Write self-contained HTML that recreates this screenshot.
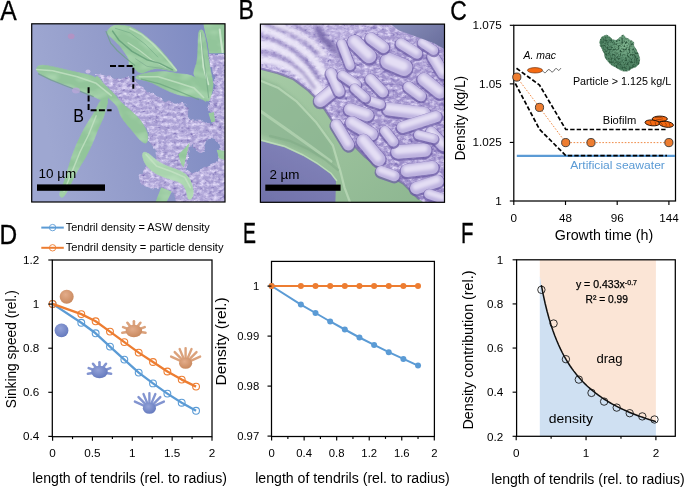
<!DOCTYPE html>
<html><head><meta charset="utf-8"><title>Figure</title>
<style>
html,body{margin:0;padding:0;background:#fff;}
body{width:685px;height:487px;overflow:hidden;font-family:"Liberation Sans",sans-serif;}
svg{display:block;}
text{font-family:"Liberation Sans",sans-serif;}
</style></head><body>
<svg width="685" height="487" viewBox="0 0 685 487">
<defs>
<filter id="rough" x="-5%" y="-5%" width="110%" height="110%"><feTurbulence type="fractalNoise" baseFrequency="0.55" numOctaves="2" seed="3" result="n"/><feColorMatrix in="n" type="matrix" values="0 0 0 0 0  0 0 0 0 0  0 0 0 0 0  3.2 0 0 0 -1.25" result="a"/><feFlood flood-color="#2F5A40"/><feComposite in2="a" operator="in" result="sp"/><feMerge><feMergeNode in="SourceGraphic"/><feMergeNode in="sp"/></feMerge><feComposite in2="SourceGraphic" operator="in"/></filter>
<filter id="ptex" x="0" y="0" width="100%" height="100%" color-interpolation-filters="sRGB"><feTurbulence type="fractalNoise" baseFrequency="0.22 0.3" numOctaves="3" seed="11" result="n"/><feColorMatrix in="n" type="matrix" values="0 0 0 0 0.93  0 0 0 0 0.90  0 0 0 0 1  1.9 0 0 0 -0.72" result="lt"/><feColorMatrix in="n" type="matrix" values="0 0 0 0 0.42  0 0 0 0 0.36  0 0 0 0 0.66  0 -2.4 0 0 1.05" result="dk"/><feMerge result="m"><feMergeNode in="SourceGraphic"/><feMergeNode in="dk"/><feMergeNode in="lt"/></feMerge><feComposite in="m" in2="SourceGraphic" operator="in"/></filter>
<filter id="ptexA" x="0" y="0" width="100%" height="100%" color-interpolation-filters="sRGB"><feTurbulence type="fractalNoise" baseFrequency="0.16" numOctaves="2" seed="4" result="dn"/><feDisplacementMap in="SourceGraphic" in2="dn" scale="6" xChannelSelector="R" yChannelSelector="G" result="sg"/><feTurbulence type="fractalNoise" baseFrequency="0.22 0.3" numOctaves="3" seed="11" result="n"/><feColorMatrix in="n" type="matrix" values="0 0 0 0 0.93  0 0 0 0 0.90  0 0 0 0 1  1.9 0 0 0 -0.72" result="lt"/><feColorMatrix in="n" type="matrix" values="0 0 0 0 0.42  0 0 0 0 0.36  0 0 0 0 0.66  0 -2.4 0 0 1.05" result="dk"/><feMerge result="m"><feMergeNode in="sg"/><feMergeNode in="dk"/><feMergeNode in="lt"/></feMerge><feComposite in="m" in2="sg" operator="in"/></filter>
<filter id="gtex" x="0" y="0" width="100%" height="100%" color-interpolation-filters="sRGB"><feTurbulence type="fractalNoise" baseFrequency="0.05 0.09" numOctaves="2" seed="5" result="n"/><feColorMatrix in="n" type="matrix" values="0 0 0 0 0.80  0 0 0 0 0.93  0 0 0 0 0.80  1.0 0 0 0 -0.42" result="lt"/><feMerge result="m"><feMergeNode in="SourceGraphic"/><feMergeNode in="lt"/></feMerge><feComposite in="m" in2="SourceGraphic" operator="in"/></filter>
<filter id="bl1" filterUnits="userSpaceOnUse" x="0" y="0" width="685" height="487"><feGaussianBlur stdDeviation="0.7"/></filter>
<filter id="bl0" filterUnits="userSpaceOnUse" x="0" y="0" width="685" height="487"><feGaussianBlur stdDeviation="0.45"/></filter>
<filter id="bl2" filterUnits="userSpaceOnUse" x="0" y="0" width="685" height="487"><feGaussianBlur stdDeviation="1.6"/></filter>
<clipPath id="clipA"><rect x="31.7" y="23.8" width="193.3" height="178.2"/></clipPath>
<clipPath id="clipB"><rect x="260.4" y="24.1" width="184.1" height="178.2"/></clipPath>
<linearGradient id="bgA" x1="0" y1="0.2" x2="1" y2="0"><stop offset="0" stop-color="#9EA7D1"/><stop offset="0.4" stop-color="#929BCA"/><stop offset="0.85" stop-color="#808CC3"/></linearGradient>
</defs>
<g clip-path="url(#clipA)">
<rect x="31" y="23" width="195" height="180" fill="url(#bgA)"/>
<g filter="url(#ptexA)">
<path d="M95.2,73.5 L109.4,76.3 L120.7,79.0 L128.0,76.7 L139.3,84.3 L150.7,92.8 L165.8,101.3 L175.0,102.5 L184.6,104.6 L189.6,108.3 L188.3,118.2 L197.0,120.6 L205.6,120.6 L209.3,124.3 L214.2,123.1 L209.3,112.0 L206.8,109.6 L209.3,102.2 L213.0,92.3 L214.2,80.0 L212.1,69.1 L208.3,54.0 L228.0,54.0 L228.0,147.9 L228.0,204.1 L176.2,204.1 L174.3,195.2 L172.4,192.3 L161.1,187.6 L150.7,188.6 L140.3,182.9 L138.4,175.3 L148.8,166.8 L156.4,159.3 L155.4,149.8 L150.7,144.1 L148.1,137.0 L146.1,129.0 L139.4,118.4 L130.0,109.7 L120.7,102.4 L114.0,93.0 L104.7,85.0 L101.0,80.0 Z M191.3,142.7 L193.4,146.6 L196.6,150.9 L200.9,153.4 L204.1,148.1 L206.2,140.2 L210.5,138.5 L218.0,141.7 L219.5,149.1 L218.5,160.9 L210.5,164.1 L202.0,168.4 L193.4,173.7 L185.9,169.4 L188.7,155.6 Z" fill="#AAA0D4" fill-rule="evenodd"/>
</g>
<g filter="url(#gtex)">
<path d="M108.4,34.8 Q105.6,31.7 109.4,28.2 Q113.2,24.7 118.8,25.0 Q124.5,25.3 127.3,26.0 Q130.0,26.6 129.0,26.1 Q128.0,25.7 133.7,28.3 Q139.3,31.0 145.5,35.9 Q151.6,40.8 157.8,46.9 Q163.9,53.1 169.1,59.7 Q174.3,66.3 176.5,69.4 Q178.7,72.6 172.2,71.0 Q165.8,69.5 160.1,68.9 Q154.5,68.2 150.2,70.1 Q146.0,72.0 142.7,72.9 Q139.3,73.9 136.5,70.6 Q133.7,67.3 130.8,65.8 Q128.0,64.4 129.0,62.5 Q130.0,60.6 127.3,56.4 Q124.5,52.1 121.7,48.4 Q118.8,44.6 115.1,41.3 Q111.3,38.0 108.4,34.8 Z" fill="#92C59A" stroke="#92C59A" stroke-width="0.8" stroke-linejoin="round" />
<path d="M36.6,70.1 Q35.7,67.3 38.5,65.8 Q41.3,64.4 47.0,65.4 Q52.7,66.3 60.2,68.2 Q67.8,70.1 76.3,72.0 Q84.8,73.9 90.5,75.3 Q96.2,76.7 100.1,82.4 Q104.0,88.0 106.2,92.5 Q108.5,97.0 107.8,99.5 Q107.0,102.0 103.0,100.8 Q99.0,99.5 95.7,97.6 Q92.4,95.6 84.8,92.5 Q77.3,89.4 69.7,86.5 Q62.1,83.7 55.5,81.2 Q48.9,78.6 43.2,75.8 Q37.6,72.9 36.6,70.1 Z" fill="#92C59A" stroke="#92C59A" stroke-width="0.8" stroke-linejoin="round" />
<path d="M96.0,76.8 Q97.0,75.5 99.0,77.8 Q101.0,80.0 102.8,82.5 Q104.7,85.0 109.3,89.0 Q114.0,93.0 117.3,97.7 Q120.7,102.4 125.3,106.1 Q130.0,109.7 134.7,114.1 Q139.4,118.4 142.8,123.7 Q146.1,129.0 147.2,133.0 Q148.4,137.0 147.7,139.9 Q147.0,142.8 146.1,143.2 Q145.2,143.6 142.9,142.3 Q140.7,141.0 137.3,137.0 Q134.0,133.0 130.0,128.3 Q126.0,123.7 123.0,119.7 Q120.0,115.7 119.0,111.1 Q118.0,106.4 114.0,103.1 Q110.0,99.7 106.7,96.3 Q103.4,93.0 100.7,89.0 Q98.0,85.0 96.5,81.5 Q95.0,78.0 96.0,76.8 Z" fill="#93C59A" stroke="#93C59A" stroke-width="0.8" stroke-linejoin="round" />
<path d="M102.0,99.2 Q100.0,100.5 97.7,105.5 Q95.3,110.4 92.9,114.4 Q90.5,118.4 87.7,122.8 Q84.8,127.1 80.6,135.6 Q76.3,144.1 73.5,151.7 Q70.6,159.3 68.8,165.9 Q66.9,172.5 65.0,178.6 Q63.1,184.8 60.7,190.0 Q58.4,195.2 60.7,197.1 Q63.1,199.0 66.9,191.9 Q70.6,184.8 74.0,177.7 Q77.3,170.6 81.0,164.9 Q84.8,159.3 88.6,151.7 Q92.4,144.1 95.2,136.6 Q98.0,129.0 100.7,123.7 Q103.4,118.4 104.7,113.7 Q106.0,109.0 107.3,104.3 Q108.7,99.7 106.3,98.8 Q104.0,98.0 102.0,99.2 Z" fill="#92C59A" stroke="#92C59A" stroke-width="0.8" stroke-linejoin="round" />
<path d="M135.6,77.4 Q135.6,75.8 141.2,74.2 Q146.9,72.6 156.4,71.8 Q165.8,71.0 172.4,72.5 Q179.0,73.9 185.7,74.3 Q192.3,74.8 196.1,78.6 Q199.8,82.4 202.7,89.0 Q205.5,95.6 206.4,99.4 Q207.4,103.2 203.6,100.3 Q199.8,97.5 192.3,97.0 Q184.7,96.6 178.1,94.7 Q171.5,92.8 164.9,89.5 Q158.2,86.2 152.6,83.3 Q146.9,80.5 141.2,79.7 Q135.6,79.0 135.6,77.4 Z" fill="#92C59A" stroke="#92C59A" stroke-width="0.8" stroke-linejoin="round" />
<path d="M198.1,39.8 Q198.3,31.3 199.6,30.4 Q200.8,29.5 202.2,29.9 Q203.6,30.4 205.0,36.5 Q206.4,42.7 207.4,50.2 Q208.3,57.8 209.8,66.3 Q211.2,74.8 212.6,79.5 Q214.0,84.3 212.6,89.9 Q211.2,95.6 209.8,99.4 Q208.3,103.2 206.0,99.4 Q203.6,95.6 201.3,89.0 Q198.9,82.4 195.6,78.1 Q192.3,73.9 194.6,68.7 Q197.0,63.5 197.5,55.9 Q197.9,48.4 198.1,39.8 Z" fill="#92C59A" stroke="#92C59A" stroke-width="0.8" stroke-linejoin="round" />
<polygon points="203.2,23.8 228.0,23.8 228.0,53.6 208.9,53.6 207.4,42.7 204.6,30.4" fill="#92C59A" />
<polygon points="190.0,141.9 184.7,147.9 178.1,154.5 180.9,164.0 183.8,167.8 186.6,155.5" fill="#92C59A" />
<path d="M142.4,154.7 Q142.4,151.3 145.8,152.3 Q149.2,153.2 153.2,157.4 Q157.3,161.5 163.6,164.4 Q170.0,167.2 175.8,169.1 Q181.7,171.0 185.7,174.1 Q189.6,177.2 191.9,184.3 Q194.2,191.4 193.0,195.4 Q191.9,199.3 189.8,199.5 Q187.7,199.7 187.4,196.7 Q187.0,193.7 185.5,189.5 Q184.0,185.3 181.1,183.5 Q178.3,181.6 172.6,180.1 Q166.9,178.5 161.3,176.3 Q155.6,174.0 150.9,170.2 Q146.1,166.4 144.3,162.3 Q142.4,158.1 142.4,154.7 Z" fill="#A9D4AE" stroke="#A9D4AE" stroke-width="0.8" stroke-linejoin="round" />
<polygon points="161.1,187.2 171.9,191.4 165.8,204.1 154.5,204.1" fill="#92C59A" />
<polygon points="216.5,149.4 224.8,150.8 224.8,160.2 218.7,158.3" fill="#92C59A" />
<polygon points="208.3,112.9 214.0,112.0 215.3,121.5 211.2,122.4" fill="#92C59A" />
</g>
<polyline points="36.6,69.5 52.7,70.7 77.3,76.7 96.2,83.3 111.3,95.6" fill="none" stroke="#C4E2C4" stroke-width="1.6" stroke-opacity="0.8" stroke-linecap="round" stroke-linejoin="round" filter="url(#bl1)"/>
<polyline points="129.9,28.5 141.2,34.2 152.6,43.6 165.8,57.8 176.2,70.1" fill="none" stroke="#C4E2C4" stroke-width="1.6" stroke-opacity="0.8" stroke-linecap="round" stroke-linejoin="round" filter="url(#bl1)"/>
<polyline points="128.0,42.7 139.3,50.2 152.6,60.6 165.8,67.3" fill="none" stroke="#C4E2C4" stroke-width="1.2" stroke-opacity="0.8" stroke-linecap="round" stroke-linejoin="round" filter="url(#bl1)"/>
<polyline points="139.3,76.7 158.2,76.7 177.1,82.4 194.2,88.1 203.6,97.5" fill="none" stroke="#C4E2C4" stroke-width="1.6" stroke-opacity="0.8" stroke-linecap="round" stroke-linejoin="round" filter="url(#bl1)"/>
<polyline points="200.8,33.2 202.1,48.4 203.6,67.3 208.3,84.3" fill="none" stroke="#D6EED6" stroke-width="2.0" stroke-opacity="0.8" stroke-linecap="round" stroke-linejoin="round" filter="url(#bl1)"/>
<polyline points="219.7,29.5 221.0,40.8 222.5,52.1" fill="none" stroke="#D6EED6" stroke-width="2.0" stroke-opacity="0.8" stroke-linecap="round" stroke-linejoin="round" filter="url(#bl1)"/>
<polyline points="96.2,115.8 88.6,134.7 80.1,151.7 72.5,170.6 64.0,191.4" fill="none" stroke="#C4E2C4" stroke-width="1.4" stroke-opacity="0.8" stroke-linecap="round" stroke-linejoin="round" filter="url(#bl1)"/>
<polyline points="146.0,154.5 156.4,165.9 171.5,171.5 184.7,177.2 190.4,187.6" fill="none" stroke="#C4E2C4" stroke-width="1.6" stroke-opacity="0.8" stroke-linecap="round" stroke-linejoin="round" filter="url(#bl1)"/>
<polyline points="112.6,31.1 119.0,40.3 132.0,51.4 146.8,59.7 159.7,63.4 172.6,69.9" fill="none" stroke="#5E9A74" stroke-width="1.5" stroke-opacity="0.75" stroke-linecap="round" stroke-linejoin="round" filter="url(#bl1)"/>
<polyline points="115.3,28.3 130.1,32.9 144.9,44.0 157.8,57.0" fill="none" stroke="#6FA883" stroke-width="1.0" stroke-opacity="0.6" stroke-linecap="round" stroke-linejoin="round" filter="url(#bl1)"/>
<polyline points="106.1,31.5 110.7,43.1 117.2,50.5 125.5,57.9 134.7,65.3" fill="none" stroke="#6AA27E" stroke-width="1.2" stroke-opacity="0.7" stroke-linecap="round" stroke-linejoin="round" filter="url(#bl1)"/>
<polyline points="141.2,79.1 159.7,83.8 178.2,91.2 198.5,99.5" fill="none" stroke="#6AA27E" stroke-width="1.3" stroke-opacity="0.7" stroke-linecap="round" stroke-linejoin="round" filter="url(#bl1)"/>
<polyline points="201.3,32.9 203.1,53.3 205.9,75.5 208.7,97.6" fill="none" stroke="#6AA27E" stroke-width="1.2" stroke-opacity="0.6" stroke-linecap="round" stroke-linejoin="round" filter="url(#bl1)"/>
<polyline points="38.5,73.9 50.8,79.9 64.0,85.2 79.1,90.9 93.3,96.6" fill="none" stroke="#6E9C88" stroke-width="1.2" stroke-opacity="0.7" stroke-linecap="round" stroke-linejoin="round" filter="url(#bl1)"/>
<polyline points="135.6,58.8 146.9,66.3 160.1,68.2 173.4,71.0" fill="none" stroke="#7FAE90" stroke-width="1.0" stroke-opacity="0.7" stroke-linecap="round" stroke-linejoin="round" filter="url(#bl1)"/>
<ellipse cx="71.2" cy="36.2" rx="3.4" ry="2.8" fill="#B293C4"/>
<ellipse cx="76" cy="90.5" rx="4" ry="3" fill="#B8A8D8" opacity="0.8"/>
<ellipse cx="88" cy="71.5" rx="2.5" ry="2" fill="#C8BCE4"/>
</g>
<path d="M110,66.1 H133.3 V88.8" fill="none" stroke="#000" stroke-width="2" stroke-dasharray="6 2.3"/>
<path d="M88.6,87.3 V110.2 H111.6" fill="none" stroke="#000" stroke-width="2" stroke-dasharray="6 2.3"/>
<text x="73.30" y="121.60" font-size="18.6" text-anchor="start" fill="#000" textLength="10.70" lengthAdjust="spacingAndGlyphs" >B</text>
<rect x="37" y="184.4" width="68" height="6.4" fill="#000"/>
<text x="38.50" y="177.60" font-size="12.4" text-anchor="start" fill="#000" textLength="37.80" lengthAdjust="spacingAndGlyphs" >10 µm</text>
<rect x="31.7" y="23.8" width="193.3" height="178.2" fill="none" stroke="#000" stroke-width="1.2"/>
<defs><linearGradient id="bgB" x1="0" y1="0" x2="1" y2="1"><stop offset="0" stop-color="#C6BCE5"/><stop offset="0.45" stop-color="#A092CC"/><stop offset="1" stop-color="#9888C6"/></linearGradient><linearGradient id="grB" x1="0" y1="0" x2="1" y2="1"><stop offset="0" stop-color="#A6CBA6"/><stop offset="0.6" stop-color="#98BF99"/><stop offset="1" stop-color="#8DB691"/></linearGradient><linearGradient id="dkB" x1="0" y1="0" x2="1" y2="0.6"><stop offset="0" stop-color="#8A90BC"/><stop offset="1" stop-color="#6C719F"/></linearGradient></defs>
<g clip-path="url(#clipB)">
<g filter="url(#ptex)">
<rect x="260" y="23" width="186" height="181" fill="url(#bgB)"/>
</g>
<polyline points="259.9,26.7 278.8,35.2 297.6,45.6 314.6,59.7 324.0,72.9" fill="none" stroke="#EDE9F8" stroke-width="7.5" stroke-opacity="0.9" stroke-linecap="round" stroke-linejoin="round" filter="url(#bl2)"/>
<polyline points="259.9,43.7 275.0,46.5 292.0,56.0 307.1,71.1 320.3,89.9 324.0,101.2" fill="none" stroke="#EDE9F8" stroke-width="8" stroke-opacity="0.9" stroke-linecap="round" stroke-linejoin="round" filter="url(#bl2)"/>
<polyline points="259.9,59.7 271.2,60.7 286.3,65.4 301.4,74.8 312.7,86.2 320.3,97.5" fill="none" stroke="#EDE9F8" stroke-width="7" stroke-opacity="0.9" stroke-linecap="round" stroke-linejoin="round" filter="url(#bl2)"/>
<polyline points="275.0,24.8 295.7,32.4 312.7,42.8 324.0,54.1" fill="none" stroke="#EDE9F8" stroke-width="6" stroke-opacity="0.8" stroke-linecap="round" stroke-linejoin="round" filter="url(#bl2)"/>
<polyline points="259.9,35.2 276.9,40.9 293.8,50.3 308.9,64.5 318.4,78.6" fill="none" stroke="#7565AA" stroke-width="3.2" stroke-opacity="0.55" stroke-linecap="round" stroke-linejoin="round" filter="url(#bl2)"/>
<polyline points="259.9,52.2 273.1,54.1 288.2,60.7 303.3,72.9 314.6,88.0" fill="none" stroke="#7565AA" stroke-width="3.0" stroke-opacity="0.55" stroke-linecap="round" stroke-linejoin="round" filter="url(#bl2)"/>
<polyline points="265.5,24.8 286.3,32.4 305.2,42.8 318.4,54.1" fill="none" stroke="#7565AA" stroke-width="2.6" stroke-opacity="0.5" stroke-linecap="round" stroke-linejoin="round" filter="url(#bl2)"/>
<polyline points="295.7,25.8 310.8,33.3 322.2,40.9" fill="none" stroke="#7565AA" stroke-width="3" stroke-opacity="0.45" stroke-linecap="round" stroke-linejoin="round" filter="url(#bl2)"/>
<polyline points="318.4,29.5 324.0,39.0 333.5,48.4" fill="none" stroke="#6A5AA0" stroke-width="7" stroke-opacity="0.7" stroke-linecap="round" stroke-linejoin="round" filter="url(#bl2)"/>
<polyline points="337.2,54.1 346.7,59.7" fill="none" stroke="#6A5AA0" stroke-width="5" stroke-opacity="0.6" stroke-linecap="round" stroke-linejoin="round" filter="url(#bl2)"/>
<polygon points="258.8,68.7 277.8,73.2 293.0,78.9 308.2,90.3 319.6,101.7 331.0,118.9 346.3,137.9 365.3,156.9 384.3,172.1 403.3,183.5 418.5,198.7 426.1,204.4 258.8,204.4" fill="url(#grB)" />
<polygon points="258.8,77.0 277.8,84.6 296.8,99.8 315.8,120.8 331.0,141.7 336.7,164.5 258.8,134.1" fill="#86B08C" opacity="0.55" filter="url(#bl2)"/>
<polyline points="260.7,80.8 277.8,87.7 296.8,101.7 315.8,121.9 332.9,145.5 340.6,172.1 344.4,187.3 350.1,202.5" fill="none" stroke="#C6E2C3" stroke-width="2.2" stroke-opacity="0.6" stroke-linecap="round" stroke-linejoin="round" filter="url(#bl1)"/>
<polyline points="260.7,111.3 285.4,128.4 312.0,147.4 331.0,161.4" fill="none" stroke="#BFDDBD" stroke-width="3" stroke-opacity="0.6" stroke-linecap="round" stroke-linejoin="round" filter="url(#bl1)"/>
<polyline points="260.7,68.7 277.8,73.2 293.0,78.9 308.2,90.3 319.6,101.7 331.0,118.9 346.3,137.9 365.3,156.9 384.3,172.1 403.3,183.5 418.5,198.7" fill="none" stroke="#6A5AA2" stroke-width="2.4" stroke-opacity="0.6" stroke-linecap="round" stroke-linejoin="round" filter="url(#bl1)"/>
<line x1="354.6" y1="43.1" x2="369.1" y2="57.1" stroke="#6B5AA4" stroke-width="17.0" stroke-linecap="round" opacity="0.7" filter="url(#bl1)"/>
<line x1="354.6" y1="42.1" x2="369.1" y2="56.1" stroke="#BDB2DF" stroke-width="14.4" stroke-linecap="round" filter="url(#bl0)"/>
<line x1="354.0" y1="40.7" x2="368.5" y2="54.7" stroke="#E4DEF4" stroke-width="7.9" stroke-linecap="round" filter="url(#bl2)"/>
<line x1="388.8" y1="62.1" x2="404.0" y2="68.5" stroke="#6B5AA4" stroke-width="19.3" stroke-linecap="round" opacity="0.7" filter="url(#bl1)"/>
<line x1="388.8" y1="61.1" x2="404.0" y2="67.5" stroke="#BDB2DF" stroke-width="16.7" stroke-linecap="round" filter="url(#bl0)"/>
<line x1="388.2" y1="59.7" x2="403.4" y2="66.1" stroke="#E4DEF4" stroke-width="9.2" stroke-linecap="round" filter="url(#bl2)"/>
<line x1="371.0" y1="39.3" x2="383.5" y2="48.4" stroke="#6B5AA4" stroke-width="14.0" stroke-linecap="round" opacity="0.7" filter="url(#bl1)"/>
<line x1="371.0" y1="38.3" x2="383.5" y2="47.4" stroke="#BDB2DF" stroke-width="11.4" stroke-linecap="round" filter="url(#bl0)"/>
<line x1="370.4" y1="36.9" x2="382.9" y2="46.0" stroke="#E4DEF4" stroke-width="6.3" stroke-linecap="round" filter="url(#bl2)"/>
<line x1="320.4" y1="101.6" x2="332.9" y2="91.7" stroke="#6B5AA4" stroke-width="15.5" stroke-linecap="round" opacity="0.7" filter="url(#bl1)"/>
<line x1="320.4" y1="100.6" x2="332.9" y2="90.7" stroke="#BDB2DF" stroke-width="12.9" stroke-linecap="round" filter="url(#bl0)"/>
<line x1="319.8" y1="99.2" x2="332.3" y2="89.3" stroke="#E4DEF4" stroke-width="7.1" stroke-linecap="round" filter="url(#bl2)"/>
<line x1="331.0" y1="74.2" x2="339.4" y2="92.5" stroke="#6B5AA4" stroke-width="13.2" stroke-linecap="round" opacity="0.7" filter="url(#bl1)"/>
<line x1="331.0" y1="73.2" x2="339.4" y2="91.5" stroke="#BDB2DF" stroke-width="10.6" stroke-linecap="round" filter="url(#bl0)"/>
<line x1="330.4" y1="71.8" x2="338.8" y2="90.1" stroke="#E4DEF4" stroke-width="5.9" stroke-linecap="round" filter="url(#bl2)"/>
<line x1="350.1" y1="110.4" x2="367.5" y2="116.1" stroke="#6B5AA4" stroke-width="14.8" stroke-linecap="round" opacity="0.7" filter="url(#bl1)"/>
<line x1="350.1" y1="109.4" x2="367.5" y2="115.1" stroke="#BDB2DF" stroke-width="12.2" stroke-linecap="round" filter="url(#bl0)"/>
<line x1="349.5" y1="108.0" x2="366.9" y2="113.7" stroke="#E4DEF4" stroke-width="6.7" stroke-linecap="round" filter="url(#bl2)"/>
<line x1="352.0" y1="123.7" x2="371.3" y2="135.1" stroke="#6B5AA4" stroke-width="15.5" stroke-linecap="round" opacity="0.7" filter="url(#bl1)"/>
<line x1="352.0" y1="122.7" x2="371.3" y2="134.1" stroke="#BDB2DF" stroke-width="12.9" stroke-linecap="round" filter="url(#bl0)"/>
<line x1="351.4" y1="121.3" x2="370.7" y2="132.7" stroke="#E4DEF4" stroke-width="7.1" stroke-linecap="round" filter="url(#bl2)"/>
<line x1="363.4" y1="141.9" x2="378.6" y2="160.2" stroke="#6B5AA4" stroke-width="16.3" stroke-linecap="round" opacity="0.7" filter="url(#bl1)"/>
<line x1="363.4" y1="140.9" x2="378.6" y2="159.2" stroke="#BDB2DF" stroke-width="13.7" stroke-linecap="round" filter="url(#bl0)"/>
<line x1="362.8" y1="139.5" x2="378.0" y2="157.8" stroke="#E4DEF4" stroke-width="7.5" stroke-linecap="round" filter="url(#bl2)"/>
<line x1="388.8" y1="110.0" x2="424.2" y2="114.5" stroke="#6B5AA4" stroke-width="15.5" stroke-linecap="round" opacity="0.7" filter="url(#bl1)"/>
<line x1="388.8" y1="109.0" x2="424.2" y2="113.5" stroke="#BDB2DF" stroke-width="12.9" stroke-linecap="round" filter="url(#bl0)"/>
<line x1="388.2" y1="107.6" x2="423.6" y2="112.1" stroke="#E4DEF4" stroke-width="7.1" stroke-linecap="round" filter="url(#bl2)"/>
<line x1="402.5" y1="128.2" x2="436.0" y2="117.6" stroke="#6B5AA4" stroke-width="14.0" stroke-linecap="round" opacity="0.7" filter="url(#bl1)"/>
<line x1="402.5" y1="127.2" x2="436.0" y2="116.6" stroke="#BDB2DF" stroke-width="11.4" stroke-linecap="round" filter="url(#bl0)"/>
<line x1="401.9" y1="125.8" x2="435.4" y2="115.2" stroke="#E4DEF4" stroke-width="6.3" stroke-linecap="round" filter="url(#bl2)"/>
<line x1="398.0" y1="152.9" x2="424.6" y2="151.0" stroke="#6B5AA4" stroke-width="16.3" stroke-linecap="round" opacity="0.7" filter="url(#bl1)"/>
<line x1="398.0" y1="151.9" x2="424.6" y2="150.0" stroke="#BDB2DF" stroke-width="13.7" stroke-linecap="round" filter="url(#bl0)"/>
<line x1="397.4" y1="150.5" x2="424.0" y2="148.6" stroke="#E4DEF4" stroke-width="7.5" stroke-linecap="round" filter="url(#bl2)"/>
<line x1="407.1" y1="171.6" x2="432.2" y2="168.5" stroke="#6B5AA4" stroke-width="15.5" stroke-linecap="round" opacity="0.7" filter="url(#bl1)"/>
<line x1="407.1" y1="170.6" x2="432.2" y2="167.5" stroke="#BDB2DF" stroke-width="12.9" stroke-linecap="round" filter="url(#bl0)"/>
<line x1="406.5" y1="169.2" x2="431.6" y2="166.1" stroke="#E4DEF4" stroke-width="7.1" stroke-linecap="round" filter="url(#bl2)"/>
<line x1="416.2" y1="189.1" x2="437.5" y2="182.2" stroke="#6B5AA4" stroke-width="14.8" stroke-linecap="round" opacity="0.7" filter="url(#bl1)"/>
<line x1="416.2" y1="188.1" x2="437.5" y2="181.2" stroke="#BDB2DF" stroke-width="12.2" stroke-linecap="round" filter="url(#bl0)"/>
<line x1="415.6" y1="186.7" x2="436.9" y2="179.8" stroke="#E4DEF4" stroke-width="6.7" stroke-linecap="round" filter="url(#bl2)"/>
<line x1="381.2" y1="172.3" x2="394.2" y2="176.9" stroke="#6B5AA4" stroke-width="13.2" stroke-linecap="round" opacity="0.7" filter="url(#bl1)"/>
<line x1="381.2" y1="171.3" x2="394.2" y2="175.9" stroke="#BDB2DF" stroke-width="10.6" stroke-linecap="round" filter="url(#bl0)"/>
<line x1="380.6" y1="169.9" x2="393.6" y2="174.5" stroke="#E4DEF4" stroke-width="5.9" stroke-linecap="round" filter="url(#bl2)"/>
<line x1="423.8" y1="80.3" x2="439.8" y2="93.2" stroke="#6B5AA4" stroke-width="15.5" stroke-linecap="round" opacity="0.7" filter="url(#bl1)"/>
<line x1="423.8" y1="79.3" x2="439.8" y2="92.2" stroke="#BDB2DF" stroke-width="12.9" stroke-linecap="round" filter="url(#bl0)"/>
<line x1="423.2" y1="77.9" x2="439.2" y2="90.8" stroke="#E4DEF4" stroke-width="7.1" stroke-linecap="round" filter="url(#bl2)"/>
<line x1="408.6" y1="87.9" x2="420.8" y2="97.0" stroke="#6B5AA4" stroke-width="13.2" stroke-linecap="round" opacity="0.7" filter="url(#bl1)"/>
<line x1="408.6" y1="86.9" x2="420.8" y2="96.0" stroke="#BDB2DF" stroke-width="10.6" stroke-linecap="round" filter="url(#bl0)"/>
<line x1="408.0" y1="85.5" x2="420.2" y2="94.6" stroke="#E4DEF4" stroke-width="5.9" stroke-linecap="round" filter="url(#bl2)"/>
<line x1="370.6" y1="80.3" x2="382.8" y2="93.2" stroke="#6B5AA4" stroke-width="13.2" stroke-linecap="round" opacity="0.7" filter="url(#bl1)"/>
<line x1="370.6" y1="79.3" x2="382.8" y2="92.2" stroke="#BDB2DF" stroke-width="10.6" stroke-linecap="round" filter="url(#bl0)"/>
<line x1="370.0" y1="77.9" x2="382.2" y2="90.8" stroke="#E4DEF4" stroke-width="5.9" stroke-linecap="round" filter="url(#bl2)"/>
<line x1="342.5" y1="76.5" x2="356.1" y2="85.6" stroke="#6B5AA4" stroke-width="12.5" stroke-linecap="round" opacity="0.7" filter="url(#bl1)"/>
<line x1="342.5" y1="75.5" x2="356.1" y2="84.6" stroke="#BDB2DF" stroke-width="9.9" stroke-linecap="round" filter="url(#bl0)"/>
<line x1="341.9" y1="74.1" x2="355.5" y2="83.2" stroke="#E4DEF4" stroke-width="5.4" stroke-linecap="round" filter="url(#bl2)"/>
<line x1="431.4" y1="133.5" x2="443.2" y2="146.5" stroke="#6B5AA4" stroke-width="14.0" stroke-linecap="round" opacity="0.7" filter="url(#bl1)"/>
<line x1="431.4" y1="132.5" x2="443.2" y2="145.5" stroke="#BDB2DF" stroke-width="11.4" stroke-linecap="round" filter="url(#bl0)"/>
<line x1="430.8" y1="131.1" x2="442.6" y2="144.1" stroke="#E4DEF4" stroke-width="6.3" stroke-linecap="round" filter="url(#bl2)"/>
<line x1="336.4" y1="125.9" x2="348.5" y2="145.7" stroke="#6B5AA4" stroke-width="14.0" stroke-linecap="round" opacity="0.7" filter="url(#bl1)"/>
<line x1="336.4" y1="124.9" x2="348.5" y2="144.7" stroke="#BDB2DF" stroke-width="11.4" stroke-linecap="round" filter="url(#bl0)"/>
<line x1="335.8" y1="123.5" x2="347.9" y2="143.3" stroke="#E4DEF4" stroke-width="6.3" stroke-linecap="round" filter="url(#bl2)"/>
<line x1="432.9" y1="57.5" x2="443.2" y2="74.2" stroke="#6B5AA4" stroke-width="14.0" stroke-linecap="round" opacity="0.7" filter="url(#bl1)"/>
<line x1="432.9" y1="56.5" x2="443.2" y2="73.2" stroke="#BDB2DF" stroke-width="11.4" stroke-linecap="round" filter="url(#bl0)"/>
<line x1="432.3" y1="55.1" x2="442.6" y2="71.8" stroke="#E4DEF4" stroke-width="6.3" stroke-linecap="round" filter="url(#bl2)"/>
<line x1="401.0" y1="44.6" x2="417.0" y2="54.5" stroke="#6B5AA4" stroke-width="13.2" stroke-linecap="round" opacity="0.7" filter="url(#bl1)"/>
<line x1="401.0" y1="43.6" x2="417.0" y2="53.5" stroke="#BDB2DF" stroke-width="10.6" stroke-linecap="round" filter="url(#bl0)"/>
<line x1="400.4" y1="42.2" x2="416.4" y2="52.1" stroke="#E4DEF4" stroke-width="5.9" stroke-linecap="round" filter="url(#bl2)"/>
<line x1="369.1" y1="101.6" x2="380.5" y2="105.4" stroke="#6B5AA4" stroke-width="11.7" stroke-linecap="round" opacity="0.7" filter="url(#bl1)"/>
<line x1="369.1" y1="100.6" x2="380.5" y2="104.4" stroke="#BDB2DF" stroke-width="9.1" stroke-linecap="round" filter="url(#bl0)"/>
<line x1="368.5" y1="99.2" x2="379.9" y2="103.0" stroke="#E4DEF4" stroke-width="5.0" stroke-linecap="round" filter="url(#bl2)"/>
<line x1="418.5" y1="135.8" x2="433.7" y2="139.6" stroke="#6B5AA4" stroke-width="11.7" stroke-linecap="round" opacity="0.7" filter="url(#bl1)"/>
<line x1="418.5" y1="134.8" x2="433.7" y2="138.6" stroke="#BDB2DF" stroke-width="9.1" stroke-linecap="round" filter="url(#bl0)"/>
<line x1="417.9" y1="133.4" x2="433.1" y2="137.2" stroke="#E4DEF4" stroke-width="5.0" stroke-linecap="round" filter="url(#bl2)"/>
<line x1="385.0" y1="132.0" x2="393.4" y2="142.7" stroke="#6B5AA4" stroke-width="12.5" stroke-linecap="round" opacity="0.7" filter="url(#bl1)"/>
<line x1="385.0" y1="131.0" x2="393.4" y2="141.7" stroke="#BDB2DF" stroke-width="9.9" stroke-linecap="round" filter="url(#bl0)"/>
<line x1="384.4" y1="129.6" x2="392.8" y2="140.3" stroke="#E4DEF4" stroke-width="5.4" stroke-linecap="round" filter="url(#bl2)"/>
<line x1="429.1" y1="195.1" x2="443.2" y2="199.7" stroke="#6B5AA4" stroke-width="12.5" stroke-linecap="round" opacity="0.7" filter="url(#bl1)"/>
<line x1="429.1" y1="194.1" x2="443.2" y2="198.7" stroke="#BDB2DF" stroke-width="9.9" stroke-linecap="round" filter="url(#bl0)"/>
<line x1="428.5" y1="192.7" x2="442.6" y2="197.3" stroke="#E4DEF4" stroke-width="5.4" stroke-linecap="round" filter="url(#bl2)"/>
<line x1="341.7" y1="44.6" x2="350.1" y2="66.6" stroke="#6B5AA4" stroke-width="11.7" stroke-linecap="round" opacity="0.7" filter="url(#bl1)"/>
<line x1="341.7" y1="43.6" x2="350.1" y2="65.6" stroke="#BDB2DF" stroke-width="9.1" stroke-linecap="round" filter="url(#bl0)"/>
<line x1="341.1" y1="42.2" x2="349.5" y2="64.2" stroke="#E4DEF4" stroke-width="5.0" stroke-linecap="round" filter="url(#bl2)"/>
<line x1="354.6" y1="89.4" x2="365.3" y2="98.9" stroke="#6B5AA4" stroke-width="11.7" stroke-linecap="round" opacity="0.7" filter="url(#bl1)"/>
<line x1="354.6" y1="88.4" x2="365.3" y2="97.9" stroke="#BDB2DF" stroke-width="9.1" stroke-linecap="round" filter="url(#bl0)"/>
<line x1="354.0" y1="87.0" x2="364.7" y2="96.5" stroke="#E4DEF4" stroke-width="5.0" stroke-linecap="round" filter="url(#bl2)"/>
<line x1="422.3" y1="43.8" x2="433.7" y2="51.4" stroke="#6B5AA4" stroke-width="11.7" stroke-linecap="round" opacity="0.7" filter="url(#bl1)"/>
<line x1="422.3" y1="42.8" x2="433.7" y2="50.4" stroke="#BDB2DF" stroke-width="9.1" stroke-linecap="round" filter="url(#bl0)"/>
<line x1="421.7" y1="41.4" x2="433.1" y2="49.0" stroke="#E4DEF4" stroke-width="5.0" stroke-linecap="round" filter="url(#bl2)"/>
<polygon points="389.0,23.0 399.0,30.5 412.4,35.2 425.6,40.0 435.0,43.7 445.5,49.8 445.5,23.0" fill="url(#dkB)" filter="url(#bl1)"/>
<defs><linearGradient id="blB" x1="0.8" y1="0" x2="0.2" y2="1"><stop offset="0" stop-color="#8485BB"/><stop offset="1" stop-color="#7172AA"/></linearGradient></defs>
<polygon points="258.0,140.3 261.6,141.3 284.2,147.3 303.2,156.1 317.8,164.8 330.9,174.3 336.0,181.0 335.3,205.0 258.0,205.0" fill="url(#blB)" filter="url(#bl0)"/>
<polyline points="262.0,140.2 284.2,146.2 303.2,155.0 317.8,163.7 330.9,173.2 336.6,180.5" fill="none" stroke="#C2E0C0" stroke-width="1.4" stroke-opacity="0.8" stroke-linecap="round" stroke-linejoin="round" filter="url(#bl1)"/>
<polyline points="270.0,136.0 290.0,141.0 310.0,150.0 326.0,160.0 338.0,170.0" fill="none" stroke="#7FAA86" stroke-width="2.4" stroke-opacity="0.5" stroke-linecap="round" stroke-linejoin="round" filter="url(#bl1)"/>
</g>
<rect x="265.3" y="184.6" width="75.3" height="6.2" fill="#000"/>
<text x="269.40" y="178.60" font-size="12.4" text-anchor="start" fill="#000" textLength="30.10" lengthAdjust="spacingAndGlyphs" >2 µm</text>
<rect x="260.4" y="24.1" width="184.1" height="178.2" fill="none" stroke="#000" stroke-width="1.2"/>
<text transform="translate(0.3,19.6) scale(0.875,1)" font-size="28.2" stroke="#000" stroke-width="0.35">A</text>
<text transform="translate(238.6,19.3) scale(0.826,1)" font-size="28" stroke="#000" stroke-width="0.35">B</text>
<text transform="translate(450.3,20.0) scale(0.81,1)" font-size="28.2" stroke="#000" stroke-width="0.35">C</text>
<text transform="translate(-0.6,243.6) scale(0.868,1)" font-size="28.2" stroke="#000" stroke-width="0.35">D</text>
<text transform="translate(243.1,243.3) scale(0.68,1)" font-size="28.6" stroke="#000" stroke-width="0.35">E</text>
<text transform="translate(460.9,243.3) scale(0.715,1)" font-size="28.6" stroke="#000" stroke-width="0.35">F</text>
<rect x="513.8" y="25.3" width="161.70" height="175.70" fill="none" stroke="#000" stroke-width="1.25"/>
<line x1="516.80" y1="155.90" x2="675.00" y2="155.90" stroke="#5B9BD5" stroke-width="2.3" />
<polyline points="516.50,68.30 539.50,85.00 565.80,129.50 667.00,129.50" fill="none" stroke="#000" stroke-width="1.7" stroke-dasharray="4.4 2.1"/>
<polyline points="515.30,83.50 539.50,129.30 565.80,155.60 667.00,155.60" fill="none" stroke="#000" stroke-width="1.7" stroke-dasharray="4.4 2.1"/>
<polyline points="516.80,77.10 539.50,107.40 565.70,142.60 591.00,142.60 668.90,142.60" fill="none" stroke="#ED7D31" stroke-width="0.9" stroke-dasharray="1.6 1.6"/>
<circle cx="516.8" cy="77.1" r="4.1" fill="#ED7D31" stroke="#222" stroke-width="0.8"/>
<circle cx="539.5" cy="107.4" r="4.1" fill="#ED7D31" stroke="#222" stroke-width="0.8"/>
<circle cx="565.7" cy="142.6" r="4.1" fill="#ED7D31" stroke="#222" stroke-width="0.8"/>
<circle cx="591.0" cy="142.6" r="4.1" fill="#ED7D31" stroke="#222" stroke-width="0.8"/>
<circle cx="668.9" cy="142.6" r="4.1" fill="#ED7D31" stroke="#222" stroke-width="0.8"/>
<line x1="509.80" y1="201.00" x2="513.80" y2="201.00" stroke="#000" stroke-width="1.15" />
<text x="501.80" y="204.90" font-size="11.7" text-anchor="end" fill="#000" >1</text>
<line x1="509.80" y1="142.43" x2="513.80" y2="142.43" stroke="#000" stroke-width="1.15" />
<text x="501.80" y="146.33" font-size="11.7" text-anchor="end" fill="#000" >1.025</text>
<line x1="509.80" y1="83.87" x2="513.80" y2="83.87" stroke="#000" stroke-width="1.15" />
<text x="501.80" y="87.77" font-size="11.7" text-anchor="end" fill="#000" >1.05</text>
<line x1="509.80" y1="25.30" x2="513.80" y2="25.30" stroke="#000" stroke-width="1.15" />
<text x="501.80" y="29.20" font-size="11.7" text-anchor="end" fill="#000" >1.075</text>
<line x1="513.80" y1="201.00" x2="513.80" y2="205.00" stroke="#000" stroke-width="1.15" />
<text x="513.80" y="222.40" font-size="11.7" text-anchor="middle" fill="#000" >0</text>
<line x1="565.50" y1="201.00" x2="565.50" y2="205.00" stroke="#000" stroke-width="1.15" />
<text x="565.50" y="222.40" font-size="11.7" text-anchor="middle" fill="#000" >48</text>
<line x1="617.20" y1="201.00" x2="617.20" y2="205.00" stroke="#000" stroke-width="1.15" />
<text x="617.20" y="222.40" font-size="11.7" text-anchor="middle" fill="#000" >96</text>
<line x1="668.90" y1="201.00" x2="668.90" y2="205.00" stroke="#000" stroke-width="1.15" />
<text x="668.90" y="222.40" font-size="11.7" text-anchor="middle" fill="#000" >144</text>
<text x="604.00" y="239.50" font-size="14.0" text-anchor="middle" fill="#000" textLength="98.40" lengthAdjust="spacingAndGlyphs" >Growth time (h)</text>
<text transform="translate(464.50,118.20) rotate(-90)" font-size="14.0" text-anchor="middle" fill="#000" textLength="84.70" lengthAdjust="spacingAndGlyphs">Density (kg/L)</text>
<text x="570.20" y="168.70" font-size="11.7" text-anchor="start" fill="#5B9BD5" textLength="94.70" lengthAdjust="spacingAndGlyphs" >Artificial seawater</text>
<text x="523.50" y="58.70" font-size="10" text-anchor="start" fill="#000" textLength="32.50" lengthAdjust="spacingAndGlyphs" font-style="italic" >A. mac</text>
<text x="572.90" y="85.30" font-size="10" text-anchor="start" fill="#000" textLength="98.30" lengthAdjust="spacingAndGlyphs" >Particle &gt; 1.125 kg/L</text>
<text x="602.70" y="124.00" font-size="10" text-anchor="start" fill="#000" textLength="33.50" lengthAdjust="spacingAndGlyphs" >Biofilm</text>
<ellipse cx="535" cy="70.3" rx="7.6" ry="2.7" fill="#F56A12" stroke="#5A2405" stroke-width="0.6"/>
<path d="M542.6,70.8 c1.5,2.4 3,2.4 4.2,0.4 s2.6,-2.2 3.8,-0.4 s2.6,1.4 3.8,-0.8 s2.4,-1.6 3.4,-0.2 s1.8,0 3.2,-1.8" fill="none" stroke="#222" stroke-width="0.7"/>
<ellipse cx="659.8" cy="118.9" rx="7.6" ry="2.8" transform="rotate(0 659.8 118.9)" fill="#F56A12" stroke="#1A0A00" stroke-width="0.9"/>
<ellipse cx="652.3" cy="122.9" rx="7.3" ry="2.9" transform="rotate(5 652.3 122.9)" fill="#F56A12" stroke="#1A0A00" stroke-width="0.9"/>
<ellipse cx="666.3" cy="124.3" rx="7.2" ry="2.9" transform="rotate(8 666.3 124.3)" fill="#F56A12" stroke="#1A0A00" stroke-width="0.9"/>
<path d="M655,117.6 q4,-1 8,0.6 M656,120 q4,-1.4 7,0.4 M650,121 l1.5,4 M655,121.3 l0.8,4 M661,123 q2,1.5 1,3 M665,122.6 q2,1.6 1,3.4 M669,122.6 l1,3.4" fill="none" stroke="#7A2E05" stroke-width="0.6"/>
<defs><radialGradient id="gP" cx="0.62" cy="0.3" r="0.75"><stop offset="0" stop-color="#82B892"/><stop offset="0.5" stop-color="#5C9070"/><stop offset="1" stop-color="#477A5B"/></radialGradient></defs>
<polygon points="599.6,41.9 601.3,37.4 604.1,35.7 606.9,35.2 609.8,36.9 612.6,39.7 616.6,40.3 619.9,37.4 623.3,34.6 625.6,37.4 629.5,39.7 633.5,41.9 634.1,46.5 636.3,49.9 638.6,54.4 639.7,58.9 639.2,63.4 636.3,66.8 631.8,68.5 628.4,70.8 623.9,71.3 619.4,69.6 616.0,67.4 611.5,65.1 608.1,61.7 605.3,57.8 604.1,53.2 601.9,48.7 600.2,45.3" fill="url(#gP)" stroke="#5F9472" stroke-width="0.8" stroke-linejoin="round" filter="url(#rough)"/>
<polyline points="52.60,303.90 81.29,322.80 95.64,333.30 109.98,346.60 124.33,359.60 138.68,372.60 153.02,383.40 167.37,393.60 181.71,402.70 196.06,410.80" fill="none" stroke="#5B9BD5" stroke-width="2.3" stroke-linejoin="round"/>
<circle cx="52.60" cy="303.90" r="3.4" fill="none" stroke="#5B9BD5" stroke-width="1.1"/>
<circle cx="81.29" cy="322.80" r="3.4" fill="none" stroke="#5B9BD5" stroke-width="1.1"/>
<circle cx="95.64" cy="333.30" r="3.4" fill="none" stroke="#5B9BD5" stroke-width="1.1"/>
<circle cx="109.98" cy="346.60" r="3.4" fill="none" stroke="#5B9BD5" stroke-width="1.1"/>
<circle cx="124.33" cy="359.60" r="3.4" fill="none" stroke="#5B9BD5" stroke-width="1.1"/>
<circle cx="138.68" cy="372.60" r="3.4" fill="none" stroke="#5B9BD5" stroke-width="1.1"/>
<circle cx="153.02" cy="383.40" r="3.4" fill="none" stroke="#5B9BD5" stroke-width="1.1"/>
<circle cx="167.37" cy="393.60" r="3.4" fill="none" stroke="#5B9BD5" stroke-width="1.1"/>
<circle cx="181.71" cy="402.70" r="3.4" fill="none" stroke="#5B9BD5" stroke-width="1.1"/>
<circle cx="196.06" cy="410.80" r="3.4" fill="none" stroke="#5B9BD5" stroke-width="1.1"/>
<polyline points="52.60,303.90 81.29,314.10 95.64,321.30 109.98,331.60 124.33,342.10 138.68,352.60 153.02,362.00 167.37,371.50 181.71,379.60 196.06,386.60" fill="none" stroke="#ED7D31" stroke-width="2.3" stroke-linejoin="round"/>
<circle cx="52.60" cy="303.90" r="3.4" fill="none" stroke="#ED7D31" stroke-width="1.1"/>
<circle cx="81.29" cy="314.10" r="3.4" fill="none" stroke="#ED7D31" stroke-width="1.1"/>
<circle cx="95.64" cy="321.30" r="3.4" fill="none" stroke="#ED7D31" stroke-width="1.1"/>
<circle cx="109.98" cy="331.60" r="3.4" fill="none" stroke="#ED7D31" stroke-width="1.1"/>
<circle cx="124.33" cy="342.10" r="3.4" fill="none" stroke="#ED7D31" stroke-width="1.1"/>
<circle cx="138.68" cy="352.60" r="3.4" fill="none" stroke="#ED7D31" stroke-width="1.1"/>
<circle cx="153.02" cy="362.00" r="3.4" fill="none" stroke="#ED7D31" stroke-width="1.1"/>
<circle cx="167.37" cy="371.50" r="3.4" fill="none" stroke="#ED7D31" stroke-width="1.1"/>
<circle cx="181.71" cy="379.60" r="3.4" fill="none" stroke="#ED7D31" stroke-width="1.1"/>
<circle cx="196.06" cy="386.60" r="3.4" fill="none" stroke="#ED7D31" stroke-width="1.1"/>
<rect x="52.3" y="260.0" width="159.70" height="176.70" fill="none" stroke="#000" stroke-width="1.25"/>
<line x1="48.30" y1="436.40" x2="52.30" y2="436.40" stroke="#000" stroke-width="1.15" />
<text x="39.30" y="440.40" font-size="11.7" text-anchor="end" fill="#000" >0.4</text>
<line x1="48.30" y1="392.30" x2="52.30" y2="392.30" stroke="#000" stroke-width="1.15" />
<text x="39.30" y="396.30" font-size="11.7" text-anchor="end" fill="#000" >0.6</text>
<line x1="48.30" y1="348.20" x2="52.30" y2="348.20" stroke="#000" stroke-width="1.15" />
<text x="39.30" y="352.20" font-size="11.7" text-anchor="end" fill="#000" >0.8</text>
<line x1="48.30" y1="304.10" x2="52.30" y2="304.10" stroke="#000" stroke-width="1.15" />
<text x="39.30" y="308.10" font-size="11.7" text-anchor="end" fill="#000" >1</text>
<line x1="48.30" y1="260.00" x2="52.30" y2="260.00" stroke="#000" stroke-width="1.15" />
<text x="39.30" y="264.00" font-size="11.7" text-anchor="end" fill="#000" >1.2</text>
<line x1="52.60" y1="436.70" x2="52.60" y2="440.70" stroke="#000" stroke-width="1.15" />
<text x="52.60" y="456.70" font-size="11.7" text-anchor="middle" fill="#000" >0</text>
<line x1="72.53" y1="436.70" x2="72.53" y2="439.10" stroke="#000" stroke-width="1.15" />
<line x1="92.45" y1="436.70" x2="92.45" y2="440.70" stroke="#000" stroke-width="1.15" />
<text x="92.45" y="456.70" font-size="11.7" text-anchor="middle" fill="#000" >0.5</text>
<line x1="112.38" y1="436.70" x2="112.38" y2="439.10" stroke="#000" stroke-width="1.15" />
<line x1="132.30" y1="436.70" x2="132.30" y2="440.70" stroke="#000" stroke-width="1.15" />
<text x="132.30" y="456.70" font-size="11.7" text-anchor="middle" fill="#000" >1</text>
<line x1="152.22" y1="436.70" x2="152.22" y2="439.10" stroke="#000" stroke-width="1.15" />
<line x1="172.15" y1="436.70" x2="172.15" y2="440.70" stroke="#000" stroke-width="1.15" />
<text x="172.15" y="456.70" font-size="11.7" text-anchor="middle" fill="#000" >1.5</text>
<line x1="192.07" y1="436.70" x2="192.07" y2="439.10" stroke="#000" stroke-width="1.15" />
<line x1="212.00" y1="436.70" x2="212.00" y2="440.70" stroke="#000" stroke-width="1.15" />
<text x="212.00" y="456.70" font-size="11.7" text-anchor="middle" fill="#000" >2</text>
<text x="32.20" y="483.20" font-size="14.0" text-anchor="start" fill="#000" textLength="194.80" lengthAdjust="spacingAndGlyphs" >length of tendrils (rel. to radius)</text>
<text transform="translate(15.60,349.20) rotate(-90)" font-size="14.0" text-anchor="middle" fill="#000" textLength="118.00" lengthAdjust="spacingAndGlyphs">Sinking speed (rel.)</text>
<line x1="41.30" y1="227.60" x2="63.80" y2="227.60" stroke="#5B9BD5" stroke-width="2.0" />
<circle cx="52.6" cy="227.6" r="3.2" fill="none" stroke="#5B9BD5" stroke-width="0.9"/>
<line x1="41.30" y1="247.80" x2="63.80" y2="247.80" stroke="#ED7D31" stroke-width="2.0" />
<circle cx="52.6" cy="247.8" r="3.2" fill="none" stroke="#ED7D31" stroke-width="0.9"/>
<text x="65.80" y="231.20" font-size="10" text-anchor="start" fill="#000" textLength="144.00" lengthAdjust="spacingAndGlyphs" >Tendril density = ASW density</text>
<text x="65.80" y="251.20" font-size="10" text-anchor="start" fill="#000" textLength="157.70" lengthAdjust="spacingAndGlyphs" >Tendril density = particle density</text>
<defs><radialGradient id="gO" cx="0.42" cy="0.35" r="0.75"><stop offset="0" stop-color="#E3AC8A"/><stop offset="1" stop-color="#C58458"/></radialGradient><radialGradient id="gB" cx="0.42" cy="0.35" r="0.75"><stop offset="0" stop-color="#93A2D8"/><stop offset="1" stop-color="#5E74BA"/></radialGradient></defs>

<ellipse cx="66.7" cy="296.7" rx="7.0" ry="7.0" fill="url(#gO)"/>

<ellipse cx="61.5" cy="330.4" rx="6.9" ry="6.9" fill="url(#gB)"/>
<line x1="133.9" y1="331.0" x2="122.3" y2="332.7" stroke="#DBA27C" stroke-width="2.6" stroke-linecap="round"/><line x1="133.9" y1="331.0" x2="123.1" y2="327.1" stroke="#DBA27C" stroke-width="2.6" stroke-linecap="round"/><line x1="133.9" y1="331.0" x2="127.4" y2="322.8" stroke="#DBA27C" stroke-width="2.6" stroke-linecap="round"/><line x1="133.9" y1="331.0" x2="133.9" y2="321.2" stroke="#DBA27C" stroke-width="2.6" stroke-linecap="round"/><line x1="133.9" y1="331.0" x2="140.4" y2="322.8" stroke="#DBA27C" stroke-width="2.6" stroke-linecap="round"/><line x1="133.9" y1="331.0" x2="144.7" y2="327.1" stroke="#DBA27C" stroke-width="2.6" stroke-linecap="round"/><line x1="133.9" y1="331.0" x2="145.5" y2="332.7" stroke="#DBA27C" stroke-width="2.6" stroke-linecap="round"/>
<ellipse cx="133.9" cy="331.0" rx="8.2" ry="6.2" fill="url(#gO)"/>
<line x1="99.5" y1="372.0" x2="87.9" y2="373.7" stroke="#8294D0" stroke-width="2.6" stroke-linecap="round"/><line x1="99.5" y1="372.0" x2="88.7" y2="368.1" stroke="#8294D0" stroke-width="2.6" stroke-linecap="round"/><line x1="99.5" y1="372.0" x2="93.0" y2="363.8" stroke="#8294D0" stroke-width="2.6" stroke-linecap="round"/><line x1="99.5" y1="372.0" x2="99.5" y2="362.2" stroke="#8294D0" stroke-width="2.6" stroke-linecap="round"/><line x1="99.5" y1="372.0" x2="106.0" y2="363.8" stroke="#8294D0" stroke-width="2.6" stroke-linecap="round"/><line x1="99.5" y1="372.0" x2="110.3" y2="368.1" stroke="#8294D0" stroke-width="2.6" stroke-linecap="round"/><line x1="99.5" y1="372.0" x2="111.1" y2="373.7" stroke="#8294D0" stroke-width="2.6" stroke-linecap="round"/>
<ellipse cx="99.5" cy="372.0" rx="8.2" ry="6.2" fill="url(#gB)"/>
<line x1="185.6" y1="363.2" x2="171.1" y2="356.6" stroke="#DBA27C" stroke-width="2.4" stroke-linecap="round"/><line x1="185.6" y1="363.2" x2="174.7" y2="352.1" stroke="#DBA27C" stroke-width="2.4" stroke-linecap="round"/><line x1="185.6" y1="363.2" x2="179.7" y2="349.1" stroke="#DBA27C" stroke-width="2.4" stroke-linecap="round"/><line x1="185.6" y1="363.2" x2="185.6" y2="348.1" stroke="#DBA27C" stroke-width="2.4" stroke-linecap="round"/><line x1="185.6" y1="363.2" x2="191.5" y2="349.1" stroke="#DBA27C" stroke-width="2.4" stroke-linecap="round"/><line x1="185.6" y1="363.2" x2="196.5" y2="352.1" stroke="#DBA27C" stroke-width="2.4" stroke-linecap="round"/><line x1="185.6" y1="363.2" x2="200.1" y2="356.6" stroke="#DBA27C" stroke-width="2.4" stroke-linecap="round"/>
<ellipse cx="185.6" cy="363.2" rx="6.6" ry="5.6" fill="url(#gO)"/>
<line x1="149.4" y1="408.2" x2="134.9" y2="401.6" stroke="#8294D0" stroke-width="2.4" stroke-linecap="round"/><line x1="149.4" y1="408.2" x2="138.5" y2="397.1" stroke="#8294D0" stroke-width="2.4" stroke-linecap="round"/><line x1="149.4" y1="408.2" x2="143.5" y2="394.1" stroke="#8294D0" stroke-width="2.4" stroke-linecap="round"/><line x1="149.4" y1="408.2" x2="149.4" y2="393.1" stroke="#8294D0" stroke-width="2.4" stroke-linecap="round"/><line x1="149.4" y1="408.2" x2="155.3" y2="394.1" stroke="#8294D0" stroke-width="2.4" stroke-linecap="round"/><line x1="149.4" y1="408.2" x2="160.3" y2="397.1" stroke="#8294D0" stroke-width="2.4" stroke-linecap="round"/><line x1="149.4" y1="408.2" x2="163.9" y2="401.6" stroke="#8294D0" stroke-width="2.4" stroke-linecap="round"/>
<ellipse cx="149.4" cy="408.2" rx="6.6" ry="5.6" fill="url(#gB)"/>
<rect x="271.5" y="261.4" width="162.90" height="175.10" fill="none" stroke="#000" stroke-width="1.25"/>
<polyline points="271.60,286.00 300.89,304.60 315.53,313.00 330.17,321.50 344.82,329.50 359.46,337.50 374.10,344.90 388.74,352.20 403.39,358.90 418.03,365.60" fill="none" stroke="#5B9BD5" stroke-width="2.0" />
<circle cx="271.60" cy="286.00" r="3.0" fill="#5B9BD5"/>
<circle cx="300.89" cy="304.60" r="3.0" fill="#5B9BD5"/>
<circle cx="315.53" cy="313.00" r="3.0" fill="#5B9BD5"/>
<circle cx="330.17" cy="321.50" r="3.0" fill="#5B9BD5"/>
<circle cx="344.82" cy="329.50" r="3.0" fill="#5B9BD5"/>
<circle cx="359.46" cy="337.50" r="3.0" fill="#5B9BD5"/>
<circle cx="374.10" cy="344.90" r="3.0" fill="#5B9BD5"/>
<circle cx="388.74" cy="352.20" r="3.0" fill="#5B9BD5"/>
<circle cx="403.39" cy="358.90" r="3.0" fill="#5B9BD5"/>
<circle cx="418.03" cy="365.60" r="3.0" fill="#5B9BD5"/>
<polyline points="271.60,285.90 300.89,285.90 315.53,285.90 330.17,285.90 344.82,285.90 359.46,285.90 374.10,285.90 388.74,285.90 403.39,285.90 418.03,285.90" fill="none" stroke="#ED7D31" stroke-width="2.0" />
<circle cx="271.60" cy="285.90" r="3.0" fill="#ED7D31"/>
<circle cx="300.89" cy="285.90" r="3.0" fill="#ED7D31"/>
<circle cx="315.53" cy="285.90" r="3.0" fill="#ED7D31"/>
<circle cx="330.17" cy="285.90" r="3.0" fill="#ED7D31"/>
<circle cx="344.82" cy="285.90" r="3.0" fill="#ED7D31"/>
<circle cx="359.46" cy="285.90" r="3.0" fill="#ED7D31"/>
<circle cx="374.10" cy="285.90" r="3.0" fill="#ED7D31"/>
<circle cx="388.74" cy="285.90" r="3.0" fill="#ED7D31"/>
<circle cx="403.39" cy="285.90" r="3.0" fill="#ED7D31"/>
<circle cx="418.03" cy="285.90" r="3.0" fill="#ED7D31"/>
<line x1="267.50" y1="436.10" x2="271.50" y2="436.10" stroke="#000" stroke-width="1.15" />
<text x="259.20" y="440.10" font-size="11.3" text-anchor="end" fill="#000" >0.97</text>
<line x1="267.50" y1="386.10" x2="271.50" y2="386.10" stroke="#000" stroke-width="1.15" />
<text x="259.20" y="390.10" font-size="11.3" text-anchor="end" fill="#000" >0.98</text>
<line x1="267.50" y1="336.10" x2="271.50" y2="336.10" stroke="#000" stroke-width="1.15" />
<text x="259.20" y="340.10" font-size="11.3" text-anchor="end" fill="#000" >0.99</text>
<line x1="267.50" y1="286.10" x2="271.50" y2="286.10" stroke="#000" stroke-width="1.15" />
<text x="259.20" y="290.10" font-size="11.3" text-anchor="end" fill="#000" >1</text>
<line x1="271.60" y1="436.50" x2="271.60" y2="440.50" stroke="#000" stroke-width="1.15" />
<text x="271.60" y="456.60" font-size="11.3" text-anchor="middle" fill="#000" >0</text>
<line x1="287.87" y1="436.50" x2="287.87" y2="438.90" stroke="#000" stroke-width="1.15" />
<line x1="304.14" y1="436.50" x2="304.14" y2="440.50" stroke="#000" stroke-width="1.15" />
<text x="304.14" y="456.60" font-size="11.3" text-anchor="middle" fill="#000" >0.4</text>
<line x1="320.41" y1="436.50" x2="320.41" y2="438.90" stroke="#000" stroke-width="1.15" />
<line x1="336.68" y1="436.50" x2="336.68" y2="440.50" stroke="#000" stroke-width="1.15" />
<text x="336.68" y="456.60" font-size="11.3" text-anchor="middle" fill="#000" >0.8</text>
<line x1="352.95" y1="436.50" x2="352.95" y2="438.90" stroke="#000" stroke-width="1.15" />
<line x1="369.22" y1="436.50" x2="369.22" y2="440.50" stroke="#000" stroke-width="1.15" />
<text x="369.22" y="456.60" font-size="11.3" text-anchor="middle" fill="#000" >1.2</text>
<line x1="385.49" y1="436.50" x2="385.49" y2="438.90" stroke="#000" stroke-width="1.15" />
<line x1="401.76" y1="436.50" x2="401.76" y2="440.50" stroke="#000" stroke-width="1.15" />
<text x="401.76" y="456.60" font-size="11.3" text-anchor="middle" fill="#000" >1.6</text>
<line x1="418.03" y1="436.50" x2="418.03" y2="438.90" stroke="#000" stroke-width="1.15" />
<line x1="434.30" y1="436.50" x2="434.30" y2="440.50" stroke="#000" stroke-width="1.15" />
<text x="434.30" y="456.60" font-size="11.3" text-anchor="middle" fill="#000" >2</text>
<text x="255.20" y="483.30" font-size="14.0" text-anchor="start" fill="#000" textLength="194.60" lengthAdjust="spacingAndGlyphs" >length of tendrils (rel. to radius)</text>
<text transform="translate(226.10,341.40) rotate(-90)" font-size="14.0" text-anchor="middle" fill="#000" textLength="88.00" lengthAdjust="spacingAndGlyphs">Density (rel.)</text>
<polygon points="539.81,259.8 539.81,276.30 541.74,287.25 543.68,296.87 545.61,305.41 547.55,313.04 549.48,319.92 551.42,326.14 553.35,331.81 555.29,337.00 557.22,341.77 559.16,346.17 561.09,350.25 563.03,354.04 564.96,357.57 566.90,360.87 568.83,363.96 570.77,366.87 572.70,369.61 574.64,372.19 576.57,374.63 578.51,376.94 580.44,379.13 582.38,381.21 584.31,383.19 586.25,385.08 588.18,386.88 590.12,388.60 592.05,390.25 593.98,391.83 595.92,393.34 597.85,394.79 599.79,396.18 601.72,397.52 603.66,398.81 605.59,400.05 607.53,401.24 609.46,402.40 611.40,403.51 613.33,404.58 615.27,405.62 617.20,406.63 619.14,407.60 621.07,408.55 623.01,409.46 624.94,410.35 626.88,411.21 628.81,412.04 630.75,412.85 632.68,413.64 634.62,414.41 636.55,415.15 638.49,415.88 640.42,416.58 642.36,417.27 644.29,417.94 646.23,418.59 648.16,419.23 650.10,419.85 652.03,420.45 653.97,421.04 655.90,421.62 655.90,259.8" fill="#FBE5D6"/>
<polygon points="539.81,436.3 539.81,276.30 541.74,287.25 543.68,296.87 545.61,305.41 547.55,313.04 549.48,319.92 551.42,326.14 553.35,331.81 555.29,337.00 557.22,341.77 559.16,346.17 561.09,350.25 563.03,354.04 564.96,357.57 566.90,360.87 568.83,363.96 570.77,366.87 572.70,369.61 574.64,372.19 576.57,374.63 578.51,376.94 580.44,379.13 582.38,381.21 584.31,383.19 586.25,385.08 588.18,386.88 590.12,388.60 592.05,390.25 593.98,391.83 595.92,393.34 597.85,394.79 599.79,396.18 601.72,397.52 603.66,398.81 605.59,400.05 607.53,401.24 609.46,402.40 611.40,403.51 613.33,404.58 615.27,405.62 617.20,406.63 619.14,407.60 621.07,408.55 623.01,409.46 624.94,410.35 626.88,411.21 628.81,412.04 630.75,412.85 632.68,413.64 634.62,414.41 636.55,415.15 638.49,415.88 640.42,416.58 642.36,417.27 644.29,417.94 646.23,418.59 648.16,419.23 650.10,419.85 652.03,420.45 653.97,421.04 655.90,421.62 655.90,436.3" fill="#CFE0F2"/>
<polyline points="541.35,285.11 543.26,294.87 545.16,303.51 547.07,311.25 548.98,318.20 550.89,324.51 552.80,330.25 554.71,335.50 556.62,340.32 558.53,344.78 560.44,348.90 562.35,352.74 564.26,356.31 566.17,359.65 568.08,362.78 569.98,365.72 571.89,368.48 573.80,371.09 575.71,373.56 577.62,375.90 579.53,378.11 581.44,380.22 583.35,382.22 585.26,384.13 587.17,385.95 589.08,387.69 590.99,389.35 592.90,390.95 594.80,392.47 596.71,393.94 598.62,395.35 600.53,396.70 602.44,398.00 604.35,399.25 606.26,400.46 608.17,401.63 610.08,402.75 611.99,403.84 613.90,404.89 615.81,405.91 617.72,406.89 619.62,407.84 621.53,408.77 623.44,409.66 625.35,410.53 627.26,411.37 629.17,412.19 631.08,412.99 632.99,413.76 634.90,414.52 636.81,415.25 638.72,415.96 640.63,416.65 642.54,417.33 644.44,417.99 646.35,418.63 648.26,419.26 650.17,419.87 652.08,420.47 653.99,421.05 655.90,421.62" fill="none" stroke="#111" stroke-width="1.5" />
<circle cx="541.4" cy="289.8" r="3.7" fill="none" stroke="#111" stroke-width="0.85"/>
<circle cx="553.6" cy="323.5" r="3.7" fill="none" stroke="#111" stroke-width="0.85"/>
<circle cx="565.9" cy="359.2" r="3.7" fill="none" stroke="#111" stroke-width="0.85"/>
<circle cx="578.8" cy="379.6" r="3.7" fill="none" stroke="#111" stroke-width="0.85"/>
<circle cx="591.5" cy="392.9" r="3.7" fill="none" stroke="#111" stroke-width="0.85"/>
<circle cx="604.1" cy="401.6" r="3.7" fill="none" stroke="#111" stroke-width="0.85"/>
<circle cx="616.7" cy="407.6" r="3.7" fill="none" stroke="#111" stroke-width="0.85"/>
<circle cx="629.7" cy="413.2" r="3.7" fill="none" stroke="#111" stroke-width="0.85"/>
<circle cx="642.3" cy="416.4" r="3.7" fill="none" stroke="#111" stroke-width="0.85"/>
<circle cx="654.5" cy="419.5" r="3.7" fill="none" stroke="#111" stroke-width="0.85"/>
<rect x="516.6" y="259.8" width="158.70" height="176.50" fill="none" stroke="#000" stroke-width="1.25"/>
<line x1="512.60" y1="436.30" x2="516.60" y2="436.30" stroke="#000" stroke-width="1.15" />
<text x="503.20" y="440.50" font-size="11.7" text-anchor="end" fill="#000" >0.2</text>
<line x1="512.60" y1="392.18" x2="516.60" y2="392.18" stroke="#000" stroke-width="1.15" />
<text x="503.20" y="396.38" font-size="11.7" text-anchor="end" fill="#000" >0.4</text>
<line x1="512.60" y1="348.05" x2="516.60" y2="348.05" stroke="#000" stroke-width="1.15" />
<text x="503.20" y="352.25" font-size="11.7" text-anchor="end" fill="#000" >0.6</text>
<line x1="512.60" y1="303.92" x2="516.60" y2="303.92" stroke="#000" stroke-width="1.15" />
<text x="503.20" y="308.12" font-size="11.7" text-anchor="end" fill="#000" >0.8</text>
<line x1="512.60" y1="259.80" x2="516.60" y2="259.80" stroke="#000" stroke-width="1.15" />
<text x="503.20" y="264.00" font-size="11.7" text-anchor="end" fill="#000" >1</text>
<line x1="516.20" y1="436.30" x2="516.20" y2="440.30" stroke="#000" stroke-width="1.15" />
<text x="516.20" y="457.40" font-size="11.7" text-anchor="middle" fill="#000" >0</text>
<line x1="551.12" y1="436.30" x2="551.12" y2="438.80" stroke="#000" stroke-width="1.15" />
<line x1="586.05" y1="436.30" x2="586.05" y2="440.30" stroke="#000" stroke-width="1.15" />
<text x="586.05" y="457.40" font-size="11.7" text-anchor="middle" fill="#000" >1</text>
<line x1="620.98" y1="436.30" x2="620.98" y2="438.80" stroke="#000" stroke-width="1.15" />
<line x1="655.90" y1="436.30" x2="655.90" y2="440.30" stroke="#000" stroke-width="1.15" />
<text x="655.90" y="457.40" font-size="11.7" text-anchor="middle" fill="#000" >2</text>
<text x="491.30" y="483.60" font-size="14.0" text-anchor="start" fill="#000" textLength="193.50" lengthAdjust="spacingAndGlyphs" >length of tendrils (rel. to radius)</text>
<text transform="translate(473.10,350.00) rotate(-90)" font-size="14.0" text-anchor="middle" fill="#000" textLength="159.00" lengthAdjust="spacingAndGlyphs">Density contribution (rel.)</text>
<text x="596.40" y="362.70" font-size="12.6" text-anchor="start" fill="#000" textLength="26.20" lengthAdjust="spacingAndGlyphs" >drag</text>
<text x="548.70" y="422.70" font-size="12.6" text-anchor="start" fill="#000" textLength="44.20" lengthAdjust="spacingAndGlyphs" >density</text>
<text x="575.90" y="288.30" font-size="10.3" text-anchor="start" fill="#000" textLength="61.20" lengthAdjust="spacingAndGlyphs" stroke="#000" stroke-width="0.25">y = 0.433x<tspan dy="-3.6" font-size="7">-0.7</tspan></text>
<text x="585.60" y="302.50" font-size="10.3" text-anchor="start" fill="#000" textLength="42.30" lengthAdjust="spacingAndGlyphs" stroke="#000" stroke-width="0.25">R² = 0.99</text>
</svg>
</body></html>
